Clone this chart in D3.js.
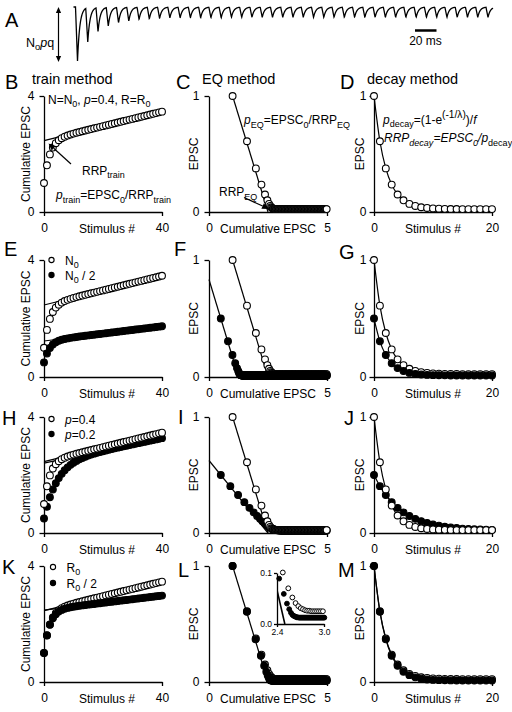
<!DOCTYPE html>
<html><head><meta charset="utf-8">
<script src="https://cdn.jsdelivr.net/npm/d3@7"></script>
<style>
body{margin:0;background:#fff}
svg{display:block;font-family:"Liberation Sans",Arial,sans-serif}
</style></head><body>
<svg id="c" width="512" height="712"></svg>
<script>
// ---------------- data ----------------
const stimulusTicks = [0, 40];
const decayTicks = [0, 20];
const cumTicks = [0, 4];
const epscTicks = [0, 1];
const eqTicks = [0, 5];
const insetXTicks = [2.4, 3.0];
const insetYTicks = [0.0, 0.1];

// peak amplitudes of the 41 EPSCs in the trace of panel A (relative to first)
const tracePeaks = [1.0,0.64,0.45,0.35,0.29,0.26,0.23,0.22,0.21,0.2,
0.2,0.2,0.2,0.2,0.2,0.19,0.19,0.19,0.19,0.19,
0.19,0.19,0.19,0.19,0.19,0.19,0.19,0.19,0.19,0.19,
0.19,0.19,0.19,0.19,0.19,0.19,0.19,0.19,0.19,0.19,0.19];

// EPSC amplitudes per stimulus, normalised: N=N0, p=0.4, R=R0
const epscCtrl = [
1.000,0.610,0.376,0.236,0.151,0.101,0.070,0.052,0.041,0.035,
0.031,0.029,0.027,0.026,0.026,0.025,0.025,0.025,0.025,0.025,
0.025,0.025,0.025,0.025,0.025,0.025,0.025,0.025,0.025,0.025,
0.025,0.025,0.025,0.025,0.025,0.025,0.025,0.025,0.025,0.025,
0.025,0.025,0.025,0.025,0.025,0.025,0.025,0.025,0.025,0.025,
0.025,0.025,0.025,0.025,0.025,0.025,0.025,0.025,0.025,0.025,
0.025,0.025,0.025,0.025,0.025,0.025,0.025,0.025,0.025,0.025,
0.025,0.025,0.025,0.025,0.025,0.025,0.025,0.025,0.025,0.025,
0.025,0.025,0.025,0.025,0.025,0.025,0.025,0.025,0.025,0.025,
0.025,0.025,0.025,0.025,0.025,0.025,0.025,0.025,0.025,0.025,
0.025,0.025];
// N0 / 2
const epscHalfN = [
0.500,0.305,0.188,0.118,0.076,0.051,0.035,0.026,0.021,0.018,
0.016,0.015,0.014,0.013,0.013,0.0125,0.0125,0.0125,0.0125,0.0125,
0.0125,0.0125,0.0125,0.0125,0.0125,0.0125,0.0125,0.0125,0.0125,0.0125,
0.0125,0.0125,0.0125,0.0125,0.0125,0.0125,0.0125,0.0125,0.0125,0.0125,
0.0125,0.0125,0.0125,0.0125,0.0125,0.0125,0.0125,0.0125,0.0125,0.0125,
0.0125,0.0125,0.0125,0.0125,0.0125,0.0125,0.0125,0.0125,0.0125,0.0125,
0.0125,0.0125,0.0125,0.0125,0.0125,0.0125,0.0125,0.0125,0.0125,0.0125,
0.0125,0.0125,0.0125,0.0125,0.0125,0.0125,0.0125,0.0125,0.0125,0.0125,
0.0125,0.0125,0.0125,0.0125,0.0125,0.0125,0.0125,0.0125,0.0125,0.0125,
0.0125,0.0125,0.0125,0.0125,0.0125,0.0125,0.0125,0.0125,0.0125,0.0125,
0.0125,0.0125,0.0125,0.0125,0.0125,0.0125,0.0125,0.0125,0.0125,0.0125,
0.0125,0.0125,0.0125,0.0125,0.0125,0.0125,0.0125,0.0125,0.0125,0.0125,
0.0125,0.0125,0.0125,0.0125,0.0125,0.0125,0.0125,0.0125,0.0125,0.0125,
0.0125,0.0125,0.0125,0.0125,0.0125,0.0125,0.0125,0.0125,0.0125,0.0125,
0.0125,0.0125,0.0125,0.0125,0.0125,0.0125,0.0125,0.0125,0.0125,0.0125,
0.0125,0.0125,0.0125,0.0125,0.0125,0.0125,0.0125,0.0125,0.0125,0.0125,
0.0125,0.0125,0.0125,0.0125,0.0125,0.0125,0.0125,0.0125,0.0125,0.0125,
0.0125,0.0125,0.0125,0.0125,0.0125,0.0125,0.0125,0.0125,0.0125,0.0125,
0.0125,0.0125,0.0125,0.0125,0.0125,0.0125,0.0125,0.0125,0.0125,0.0125,
0.0125,0.0125,0.0125,0.0125,0.0125,0.0125,0.0125,0.0125,0.0125,0.0125,
0.0125,0.0125,0.0125,0.0125,0.0125,0.0125,0.0125,0.0125,0.0125,0.0125,
0.0125,0.0125,0.0125,0.0125,0.0125,0.0125,0.0125,0.0125,0.0125,0.0125,
0.0125,0.0125,0.0125,0.0125,0.0125,0.0125,0.0125,0.0125,0.0125,0.0125,
0.0125,0.0125,0.0125,0.0125,0.0125,0.0125,0.0125,0.0125,0.0125,0.0125,
0.0125,0.0125,0.0125,0.0125,0.0125,0.0125,0.0125,0.0125,0.0125,0.0125,
0.0125,0.0125,0.0125,0.0125,0.0125,0.0125,0.0125,0.0125,0.0125,0.0125,
0.0125,0.0125,0.0125,0.0125,0.0125,0.0125,0.0125,0.0125,0.0125,0.0125,
0.0125,0.0125,0.0125,0.0125,0.0125,0.0125,0.0125,0.0125,0.0125,0.0125,
0.0125,0.0125,0.0125,0.0125,0.0125,0.0125,0.0125,0.0125,0.0125,0.0125,
0.0125,0.0125,0.0125,0.0125,0.0125,0.0125,0.0125,0.0125,0.0125,0.0125,
0.0125,0.0125];
// p = 0.2
const epscP02 = [
0.500,0.404,0.328,0.266,0.217,0.178,0.147,0.122,0.102,0.086,
0.073,0.063,0.054,0.048,0.043,0.038,0.035,0.032,0.030,0.028,
0.027,0.026,0.025,0.024,0.024,0.023,0.023,0.023,0.022,0.022,
0.022,0.0215,0.0215,0.0215,0.0215,0.0215,0.0215,0.0215,0.0215,0.0215,
0.0215,0.0215,0.0215,0.0215,0.0215,0.0215,0.0215,0.0215,0.0215,0.0215,
0.0215,0.0215,0.0215,0.0215,0.0215,0.0215,0.0215,0.0215,0.0215,0.0215,
0.0215,0.0215,0.0215,0.0215,0.0215,0.0215,0.0215,0.0215,0.0215,0.0215,
0.0215,0.0215,0.0215,0.0215,0.0215,0.0215,0.0215,0.0215,0.0215,0.0215,
0.0215,0.0215,0.0215,0.0215,0.0215,0.0215,0.0215,0.0215,0.0215,0.0215,
0.0215,0.0215,0.0215,0.0215,0.0215,0.0215,0.0215,0.0215,0.0215,0.0215,
0.0215,0.0215,0.0215,0.0215,0.0215,0.0215,0.0215,0.0215,0.0215,0.0215,
0.0215,0.0215,0.0215,0.0215,0.0215,0.0215,0.0215,0.0215,0.0215,0.0215,
0.0215];
// R0 / 2
const epscHalfR = [
1.000,0.605,0.368,0.226,0.140,0.089,0.059,0.040,0.029,0.022,
0.018,0.016,0.015,0.014,0.013,0.013,0.0125,0.0125,0.0125,0.0125,
0.0125,0.0125,0.0125,0.0125,0.0125,0.0125,0.0125,0.0125,0.0125,0.0125,
0.0125,0.0125,0.0125,0.0125,0.0125,0.0125,0.0125,0.0125,0.0125,0.0125,
0.0125,0.0125,0.0125,0.0125,0.0125,0.0125,0.0125,0.0125,0.0125,0.0125,
0.0125,0.0125,0.0125,0.0125,0.0125,0.0125,0.0125,0.0125,0.0125,0.0125,
0.0125,0.0125,0.0125,0.0125,0.0125,0.0125,0.0125,0.0125,0.0125,0.0125,
0.0125,0.0125,0.0125,0.0125,0.0125,0.0125,0.0125,0.0125,0.0125,0.0125,
0.0125,0.0125,0.0125,0.0125,0.0125,0.0125,0.0125,0.0125,0.0125,0.0125,
0.0125,0.0125,0.0125,0.0125,0.0125,0.0125,0.0125,0.0125,0.0125,0.0125,
0.0125,0.0125,0.0125,0.0125,0.0125,0.0125,0.0125,0.0125,0.0125,0.0125,
0.0125,0.0125,0.0125,0.0125,0.0125,0.0125,0.0125,0.0125,0.0125,0.0125,
0.0125,0.0125,0.0125,0.0125,0.0125,0.0125,0.0125,0.0125,0.0125,0.0125,
0.0125,0.0125,0.0125,0.0125,0.0125,0.0125,0.0125,0.0125,0.0125,0.0125,
0.0125,0.0125,0.0125,0.0125,0.0125,0.0125,0.0125,0.0125,0.0125,0.0125,
0.0125,0.0125,0.0125,0.0125,0.0125,0.0125,0.0125,0.0125,0.0125,0.0125,
0.0125,0.0125,0.0125,0.0125,0.0125,0.0125,0.0125,0.0125,0.0125,0.0125,
0.0125,0.0125,0.0125,0.0125,0.0125,0.0125,0.0125,0.0125,0.0125,0.0125,
0.0125,0.0125,0.0125,0.0125,0.0125,0.0125,0.0125,0.0125,0.0125,0.0125,
0.0125,0.0125,0.0125,0.0125,0.0125,0.0125,0.0125,0.0125,0.0125,0.0125,
0.0125,0.0125];

// linear fits of the cumulative plots (train method): [stimulus, cumulative EPSC]
const trainLineCtrl = [[0, 2.461], [40, 3.461]];
const trainLineHalfN = [[0, 1.231], [40, 1.731]];
const trainLineP02 = [[0, 2.410], [40, 3.270]];
const trainLineHalfR = [[0, 2.480], [40, 2.980]];
// linear fits of the EQ plots: [cumulative EPSC, EPSC]
const eqLineCtrl = [[1, 1], [2.5, 0]];
const eqLineHalfN = [[0, 0.833], [1.25, 0]];
const eqLineP02 = [[0, 0.625], [2.5, 0]];
const eqLineHalfR = [[1, 1], [2.5, 0]];

// ---------------- layout ----------------
const svg = d3.select('#c');
const colX = [44, 209, 374];
const rowY = [[96, 212], [260, 377], [417, 533], [566, 682]];
const W = 118;
const R = 3.4;

function styleAxis(g, fs) {
  g.attr('font-family', null).attr('font-size', fs);
  g.selectAll('.domain, .tick line').attr('stroke', '#000').attr('stroke-width', 1.3);
  g.selectAll('.tick text').attr('fill', '#000');
}

function richText(g, x, y, parts, opts = {}) {
  const size = opts.size || 12;
  const t = g.append('text').attr('x', x).attr('y', y).attr('font-size', size)
    .attr('text-anchor', opts.anchor || 'start').attr('fill', '#000');
  let cur = 0;
  for (const p of parts) {
    const s = t.append('tspan').text(p.t);
    let off = 0, fs = size;
    if (p.sub) { off = size * 0.3; fs = size * (p.scale || 0.75); }
    if (p.sup) { off = -size * 0.5; fs = size * (p.scale || 0.85); }
    if (off !== cur) s.attr('dy', off - cur);
    cur = off;
    if (fs !== size) s.attr('font-size', fs);
    if (p.it) s.attr('font-style', 'italic');
  }
  return t;
}

function arrow(g, x1, y1, x2, y2, head = 6, w = 2.6) {
  const a = Math.atan2(y2 - y1, x2 - x1);
  const bx = x2 - head * Math.cos(a), by = y2 - head * Math.sin(a);
  g.append('line').attr('x1', x1).attr('y1', y1).attr('x2', bx).attr('y2', by)
    .attr('stroke', '#000').attr('stroke-width', 1.2);
  g.append('path').attr('d', `M${x2},${y2}L${bx + w * Math.sin(a)},${by - w * Math.cos(a)}L${bx - w * Math.sin(a)},${by + w * Math.cos(a)}Z`)
    .attr('fill', '#000');
}

function letter(t, x, y) {
  svg.append('text').attr('x', x).attr('y', y).attr('font-size', 20).text(t);
}

const lineGen = d3.line();

function drawPanel(col, row, kind, series, fits) {
  const x0 = colX[col], [top, bot] = rowY[row];
  const g = svg.append('g');
  let x, y, xt, yt, xl, yl, xlOff = 0;
  if (kind === 'train') {
    x = d3.scaleLinear([0, 40], [x0, x0 + W]); y = d3.scaleLinear([0, 4], [bot, top]);
    xt = stimulusTicks; yt = cumTicks; xl = 'Stimulus #'; yl = 'Cumulative EPSC'; xlOff = 4;
  } else if (kind === 'eq') {
    x = d3.scaleLinear([0, 5], [x0, x0 + W]); y = d3.scaleLinear([0, 1], [bot, top]);
    xt = eqTicks; yt = epscTicks; xl = 'Cumulative EPSC'; yl = 'EPSC';
  } else {
    x = d3.scaleLinear([0, 20], [x0, x0 + W]); y = d3.scaleLinear([0, 1], [bot, top]);
    xt = decayTicks; yt = epscTicks; xl = 'Stimulus #'; yl = 'EPSC';
  }
  const gx = g.append('g').attr('transform', `translate(0,${bot})`)
    .call(d3.axisBottom(x).tickValues(xt).tickSize(4).tickSizeOuter(0).tickPadding(7.5).tickFormat(d3.format('d')));
  styleAxis(gx, 12);
  const gy = g.append('g').attr('transform', `translate(${x0},0)`)
    .call(d3.axisLeft(y).tickValues(yt).tickSize(4.5).tickSizeOuter(0).tickPadding(col === 2 ? 3 : 5).tickFormat(d3.format('d')));
  styleAxis(gy, 12);
  g.append('text').attr('x', x0 + W / 2 + xlOff).attr('y', bot + 20.5).attr('text-anchor', 'middle')
    .attr('font-size', 12).text(xl);
  const ylx = [29.5, 197.5, 363.5][col];
  g.append('text').attr('transform', `translate(${ylx},${(top + bot) / 2}) rotate(-90)`)
    .attr('text-anchor', 'middle').attr('font-size', 12).text(yl);

  // fit lines
  const lg = d3.line().x(d => x(d[0])).y(d => y(d[1]));
  if (kind === 'decay') {
    const cg = d3.line().x(d => x(d[0])).y(d => y(d[1])).curve(d3.curveMonotoneX);
    series.forEach(s => {
      const pts = s.data.slice(0, 21).map((v, i) => [i, v]);
      g.append('path').attr('d', cg(pts)).attr('fill', 'none').attr('stroke', '#000').attr('stroke-width', 1.2);
    });
  } else {
    fits.forEach(f => g.append('path').attr('d', lg(f)).attr('fill', 'none').attr('stroke', '#000').attr('stroke-width', 1.2));
  }
  // points
  series.forEach(s => {
    let pts;
    if (kind === 'train') {
      const cum = d3.cumsum(s.data);
      pts = d3.range(0, 41).map(i => [i, cum[i]]);
    } else if (kind === 'eq') {
      const cum = d3.cumsum(s.data);
      pts = s.data.map((v, i) => [cum[i], v]).filter(d => d[0] <= 5.01);
    } else {
      pts = s.data.slice(0, 21).map((v, i) => [i, v]);
    }
    g.append('g').selectAll('circle').data(pts).join('circle')
      .attr('cx', d => x(d[0])).attr('cy', d => y(d[1])).attr('r', R)
      .attr('fill', s.filled ? '#000' : '#fff').attr('stroke', '#000').attr('stroke-width', 1.1);
  });
  return { g, x, y };
}

// ---------------- panel A: trace ----------------
const traceX = d3.scaleLinear().domain([0, 40]).range([77.5, 488]);
const traceY = d3.scaleLinear().domain([0, 1]).range([7, 61]);
const rise = 2.0, tau = 2.3;
const tracePts = [];
for (let px = 73.5; px <= 493; px += 0.25) {
  let v = 0;
  tracePeaks.forEach((a, i) => {
    const s = px - (traceX(i) - rise);
    if (s < 0) return;
    v += s < rise ? a * s / rise : a * Math.exp(-(s - rise) / tau);
  });
  tracePts.push([px, traceY(v)]);
}
svg.append('path').attr('d', lineGen(tracePts)).attr('fill', 'none').attr('stroke', '#000').attr('stroke-width', 1.3);
// double arrow N0pq
const ag = svg.append('g');
arrow(ag, 58.5, 34, 58.5, 7, 6, 2.6);
arrow(ag, 58.5, 34, 58.5, 62, 6, 2.6);
richText(ag, 26, 46.5, [{ t: 'N' }, { t: 'o', sub: true }, { t: 'p', it: true }, { t: 'q' }], { size: 12.5 });
// scale bar
ag.append('line').attr('x1', 415).attr('x2', 436.5).attr('y1', 30.5).attr('y2', 30.5).attr('stroke', '#000').attr('stroke-width', 2.5);
ag.append('text').attr('x', 425.5).attr('y', 44.5).attr('text-anchor', 'middle').attr('font-size', 12).text('20 ms');

// ---------------- letters & titles ----------------
letter('A', 5, 27);
letter('B', 5, 89); letter('C', 176, 89); letter('D', 340, 89);
letter('E', 4, 256); letter('F', 174, 256); letter('G', 339, 259);
letter('H', 2, 425); letter('I', 178, 424); letter('J', 344, 425);
letter('K', 2, 574); letter('L', 178, 577); letter('M', 338, 577);
svg.append('text').attr('x', 32).attr('y', 83.5).attr('font-size', 14.5).text('train method');
svg.append('text').attr('x', 202).attr('y', 83.5).attr('font-size', 14.5).text('EQ method');
svg.append('text').attr('x', 367).attr('y', 83.5).attr('font-size', 14.5).text('decay method');

// ---------------- rows ----------------
const S = (data, filled) => ({ data, filled });
// row 1
const pB = drawPanel(0, 0, 'train', [S(epscCtrl, false)], [trainLineCtrl]);
const pC = drawPanel(1, 0, 'eq', [S(epscCtrl, false)], [eqLineCtrl]);
const pD = drawPanel(2, 0, 'decay', [S(epscCtrl, false)], []);
// row 2
drawPanel(0, 1, 'train', [S(epscCtrl, false), S(epscHalfN, true)], [trainLineCtrl, trainLineHalfN]);
drawPanel(1, 1, 'eq', [S(epscCtrl, false), S(epscHalfN, true)], [eqLineCtrl, eqLineHalfN]);
drawPanel(2, 1, 'decay', [S(epscCtrl, false), S(epscHalfN, true)], []);
// row 3
drawPanel(0, 2, 'train', [S(epscP02, true), S(epscCtrl, false)], [trainLineCtrl, trainLineP02]);
drawPanel(1, 2, 'eq', [S(epscP02, true), S(epscCtrl, false)], [eqLineCtrl, eqLineP02]);
drawPanel(2, 2, 'decay', [S(epscP02, true), S(epscCtrl, false)], []);
// row 4
drawPanel(0, 3, 'train', [S(epscCtrl, false), S(epscHalfR, true)], [trainLineCtrl, trainLineHalfR]);
const pL = drawPanel(1, 3, 'eq', [S(epscCtrl, false), S(epscHalfR, true)], [eqLineHalfR]);
drawPanel(2, 3, 'decay', [S(epscCtrl, false), S(epscHalfR, true)], []);

// ---------------- annotations ----------------
const an = svg.append('g');
richText(an, 48, 103.5, [{ t: 'N=N' }, { t: '0', sub: true }, { t: ', ' }, { t: 'p', it: true }, { t: '=0.4, R=R' }, { t: '0', sub: true }], { size: 12 });
richText(an, 82, 174.5, [{ t: 'RRP' }, { t: 'train', sub: true }], { size: 12 });
arrow(an, 71, 164, 48.5, 143.5, 7, 3);
richText(an, 56, 199, [{ t: 'p', it: true }, { t: 'train', sub: true }, { t: '=EPSC' }, { t: '0', sub: true }, { t: '/RRP' }, { t: 'train', sub: true }], { size: 12 });
richText(an, 244, 124, [{ t: 'p', it: true }, { t: 'EQ', sub: true }, { t: '=EPSC' }, { t: '0', sub: true }, { t: '/RRP' }, { t: 'EQ', sub: true }], { size: 12 });
richText(an, 219, 196, [{ t: 'RRP' }, { t: 'EQ', sub: true }], { size: 12 });
arrow(an, 244, 197.5, 269, 209, 7, 3);
richText(an, 383, 123.5, [{ t: 'p', it: true }, { t: 'decay', sub: true }, { t: '=(1-e' }, { t: '(-1/λ)', sup: true }, { t: ')/' }, { t: 'f', it: true }], { size: 12 });
richText(an, 384, 142, [{ t: 'RRP', it: true }, { t: 'decay', sub: true, it: true }, { t: '=EPSC', it: true }, { t: '0', sub: true, it: true }, { t: '/', it: true }, { t: 'p', it: true }, { t: 'decay', sub: true }], { size: 12 });

// legends
function legend(cx, cy, filled, parts) {
  an.append('circle').attr('cx', cx).attr('cy', cy).attr('r', 2.6)
    .attr('fill', filled ? '#000' : '#fff').attr('stroke', '#000').attr('stroke-width', 1.1);
  richText(an, cx + 13.5, cy + 4.5, parts, { size: 12 });
}
legend(51.5, 260, false, [{ t: 'N' }, { t: '0', sub: true }]);
legend(51.5, 275, true, [{ t: 'N' }, { t: '0', sub: true }, { t: ' / 2' }]);
legend(51.5, 419, false, [{ t: 'p', it: true }, { t: '=0.4' }]);
legend(51.5, 434, true, [{ t: 'p', it: true }, { t: '=0.2' }]);
legend(53, 567, false, [{ t: 'R' }, { t: '0', sub: true }]);
legend(53, 583, true, [{ t: 'R' }, { t: '0', sub: true }, { t: ' / 2' }]);

// ---------------- inset in L ----------------
const ix = d3.scaleLinear().domain([2.4, 3.0]).range([277, 324]);
const iy = d3.scaleLinear().domain([0, 0.1]).range([624, 573]);
const ig = svg.append('g');
const ixa = ig.append('g').attr('transform', 'translate(0,624)')
  .call(d3.axisBottom(ix).tickValues(insetXTicks).tickSize(3).tickSizeOuter(0).tickPadding(2).tickFormat(d3.format('.1f')));
styleAxis(ixa, 8.5);
const iya = ig.append('g').attr('transform', 'translate(277,0)')
  .call(d3.axisLeft(iy).tickValues(insetYTicks).tickSize(3).tickSizeOuter(0).tickPadding(2).tickFormat(d3.format('.1f')));
styleAxis(iya, 8.5);
svg.append('clipPath').attr('id', 'ic').append('rect').attr('x', 277).attr('y', 571).attr('width', 50).attr('height', 53);
ig.append('path').attr('clip-path', 'url(#ic)').attr('d', d3.line().x(d => ix(d[0])).y(d => iy(d[1]))(eqLineHalfR))
  .attr('stroke', '#000').attr('stroke-width', 1.6).attr('fill', 'none');
[S(epscCtrl, false), S(epscHalfR, true)].forEach(s => {
  const cum = d3.cumsum(s.data);
  const pts = s.data.map((v, i) => [cum[i], v]).filter(d => d[0] >= 2.38 && d[0] <= 3.01 && d[1] <= 0.105);
  ig.append('g').selectAll('circle').data(pts).join('circle')
    .attr('cx', d => ix(d[0])).attr('cy', d => iy(d[1])).attr('r', 2.4)
    .attr('fill', s.filled ? '#000' : '#fff').attr('stroke', '#000').attr('stroke-width', 1);
});
</script>
</body></html>
